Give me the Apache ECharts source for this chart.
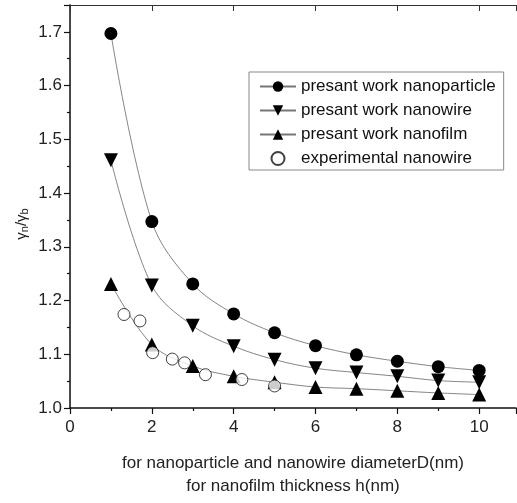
<!DOCTYPE html>
<html>
<head>
<meta charset="utf-8">
<script src="https://cdn.jsdelivr.net/npm/echarts@6/dist/echarts.min.js"></script>
<style>
  html, body { margin: 0; padding: 0; background: #fff; }
  #chart { width: 517px; height: 503px; }
</style>
</head>
<body>
<div id="chart"></div>
<script>
  // x = diameter / thickness (nm)
  var sizes = [1, 2, 3, 4, 5, 6, 7, 8, 9, 10]
  var particle = [1.697, 1.347, 1.231, 1.175, 1.140, 1.116, 1.099, 1.087, 1.077, 1.070]
  var wire = [1.461, 1.228, 1.153, 1.115, 1.090, 1.074, 1.066, 1.059, 1.051, 1.048]
  var film = [1.231, 1.118, 1.078, 1.059, 1.048, 1.039, 1.036, 1.032, 1.028, 1.025]
  // experimental nanowire points
  var expX = [1.32, 1.71, 2.02, 2.50, 2.80, 3.31, 4.20, 5.0]
  var expY = [1.174, 1.162, 1.103, 1.091, 1.084, 1.062, 1.053, 1.041]

  var names = ['presant work nanoparticle', 'presant work nanowire', 'presant work nanofilm', 'experimental nanowire']
  var downTri = 'path://M0,0L10,0L5,9Z'

  function pairs(xs, ys) {
    return xs.map(function (x, i) { return [x, ys[i]] })
  }

  function theory(name, ys, symbol, size) {
    return {
      name: name,
      type: 'line',
      smooth: 0.35,
      data: pairs(sizes, ys),
      symbol: symbol,
      symbolSize: size,
      itemStyle: { color: '#000' },
      lineStyle: { color: '#777', width: 0.9 },
      emphasis: { disabled: true },
      z: 3,
    }
  }

  var chart = echarts.init(document.getElementById('chart'))
  var option = {
    animation: false,
    textStyle: { fontFamily: 'Liberation Sans, Arial, sans-serif' },
    grid: { left: 70, top: 5, right: 1, bottom: 89 },
    legend: {
      orient: 'vertical',
      left: 249,
      top: 72,
      width: 255,
      padding: [6, 8, 3, 10],
      itemGap: 7,
      itemWidth: 36,
      itemHeight: 13,
      backgroundColor: '#fff',
      borderColor: '#888',
      borderWidth: 1,
      borderRadius: 0,
      textStyle: { fontSize: 17, color: '#111' },
      data: names,
    },
    xAxis: [
      {
        type: 'value',
        min: 0,
        max: 10.9,
        interval: 2,
        axisLine: { onZero: false, lineStyle: { color: '#111', width: 1.5 } },
        axisTick: { length: 6, lineStyle: { color: '#111', width: 1.2 } },
        minorTick: { show: true, splitNumber: 2, length: 3, lineStyle: { color: '#111', width: 1.2 } },
        axisLabel: { fontSize: 17, color: '#222', margin: 11, showMaxLabel: false },
        splitLine: { show: false },
        name: 'for nanoparticle and nanowire diameterD(nm)\nfor nanofilm thickness h(nm)',
        nameLocation: 'middle',
        nameGap: 44,
        nameTextStyle: { fontSize: 17, color: '#222', lineHeight: 23 },
      },
      {
        type: 'value',
        position: 'top',
        min: 0,
        max: 10.9,
        interval: 2,
        axisLine: { show: true, lineStyle: { color: '#333', width: 1.2 } },
        axisTick: { inside: true, length: 6, lineStyle: { color: '#333' } },
        axisLabel: { show: false },
        splitLine: { show: false },
      },
    ],
    yAxis: [
      {
        type: 'value',
        min: 1.0,
        max: 1.75,
        interval: 0.1,
        axisLine: { show: true, onZero: false, lineStyle: { color: '#111', width: 1.5 } },
        axisTick: { length: 6, lineStyle: { color: '#111', width: 1.2 } },
        minorTick: { show: true, splitNumber: 2, length: 3, lineStyle: { color: '#111', width: 1.2 } },
        axisLabel: {
          fontSize: 17, color: '#222', margin: 8, showMaxLabel: false,
          formatter: function (v) { return v.toFixed(1) },
        },
        splitLine: { show: false },
      },
      {
        type: 'value',
        position: 'right',
        min: 1.0,
        max: 1.75,
        interval: 0.1,
        axisLine: { show: true, lineStyle: { color: '#444', width: 1 } },
        axisTick: { show: false },
        axisLabel: { show: false },
        splitLine: { show: false },
      },
    ],
    graphic: [
      {
        type: 'text',
        x: 22,
        y: 224,
        rotation: Math.PI / 2,
        style: {
          text: '{a|γ}{s|n}{a|/γ}{s|b}',
          align: 'center',
          verticalAlign: 'middle',
          fill: '#222',
          rich: {
            a: { fontSize: 15, fill: '#222', fontFamily: 'Liberation Sans' },
            s: { fontSize: 11, fill: '#222', verticalAlign: 'bottom', padding: [6, 0, 0, 0], fontFamily: 'Liberation Sans' },
          },
        },
      },
    ],
    series: [
      theory(names[0], particle, 'circle', 13),
      theory(names[1], wire, downTri, 14),
      theory(names[2], film, 'triangle', 14),
      {
        name: names[3],
        type: 'scatter',
        data: pairs(expX, expY),
        symbol: 'circle',
        symbolSize: 12,
        itemStyle: { color: '#fff', borderColor: '#111', borderWidth: 1 },
        emphasis: { disabled: true },
        z: 4,
      },
    ],
  }
  chart.setOption(option)
</script>
</body>
</html>
